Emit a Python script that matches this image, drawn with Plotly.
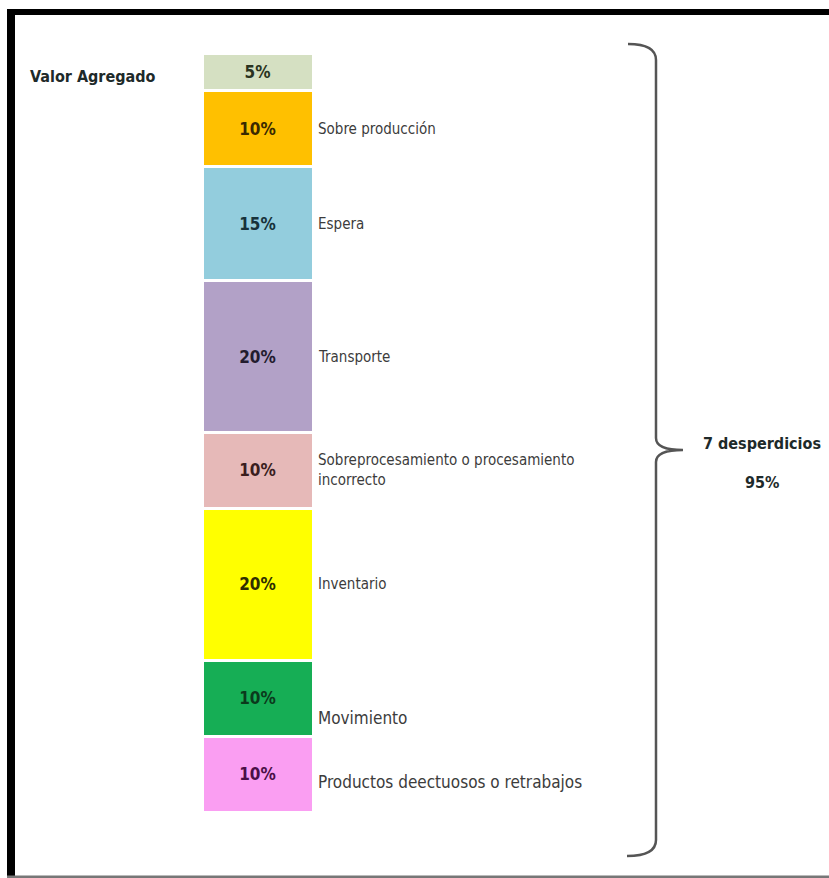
import plotly.graph_objects as go

# ---- data ----
categories = [
    "Valor Agregado",
    "Sobre producción",
    "Espera",
    "Transporte",
    "Sobreprocesamiento o procesamiento<br>incorrecto",
    "Inventario",
    "Movimiento",
    "Productos deectuosos o retrabajos",
]
values = [5, 10, 15, 20, 10, 20, 10, 10]
colors = ["#D5E0C2", "#FFC000", "#93CDDD", "#B2A1C7", "#E6B9B8", "#FFFF00", "#16AE55", "#FA9EF2"]
text_colors = ["#2A3320", "#3A2A00", "#17323A", "#231C2E", "#3A1E1E", "#2E2E00", "#0B3A1C", "#4A1046"]
waste_title = "7 desperdicios"
waste_total = sum(values[1:])

W, H = 829, 878
FONT = "DejaVu Sans Condensed, Liberation Sans Narrow, sans-serif"

# y axis: value 0 at pixel 53, value 100 at pixel 812 (reversed)
top_px, bot_px = 53, 812
total = sum(values)
scale = (bot_px - top_px) / total
y_range = [(H - top_px) / scale, -top_px / scale]

BAR_X = 257.5
BAR_W = 111
label_shift = [-5, 0, 0, 0, 0, 0, -20, -8]


def px(x):
    return x / W


def py(y):
    return 1 - y / H


fig = go.Figure()
for cat, v, c, tc in zip(categories, values, colors, text_colors):
    fig.add_trace(go.Bar(
        x=[BAR_X], y=[v], width=[BAR_W], name=cat,
        marker=dict(color=c, line=dict(color="white", width=3)),
        text=[f"{v}%"], textposition="inside", insidetextanchor="middle",
        textangle=0, constraintext="none",
        textfont=dict(family=FONT, size=17, color=tc, weight="bold"),
        hoverinfo="skip",
    ))

# category labels
cum = 0
for i, (cat, v) in enumerate(zip(categories, values)):
    mid = cum + v / 2
    cum += v
    if i == 0:
        fig.add_annotation(x=28, y=mid, xref="x", yref="y", text=cat, showarrow=False,
                           xanchor="left", yanchor="middle", yshift=label_shift[i],
                           font=dict(family=FONT, size=16, color="#1E2A2A", weight="bold"))
    else:
        size = 17 if i >= 6 else 15
        fig.add_annotation(x=316, y=mid, xref="x", yref="y", text=cat, showarrow=False,
                           xanchor="left", yanchor="middle", align="left", yshift=label_shift[i],
                           font=dict(family=FONT, size=size, color="#3C3C3C"))

# brace
def P(x, y):
    return f"{px(x):.5f},{py(y):.5f}"

brace = (f"M {P(628,44)} Q {P(656,44)} {P(656,60)} L {P(656,438)} "
         f"Q {P(656,450)} {P(683,450)} Q {P(656,450)} {P(656,462)} "
         f"L {P(656,840)} Q {P(656,856)} {P(627,856)}")
fig.add_shape(type="path", path=brace, xref="paper", yref="paper",
              line=dict(color="#555555", width=2.5))

fig.add_annotation(x=px(762), y=py(443), xref="paper", yref="paper", text=waste_title,
                   showarrow=False, xanchor="center", yanchor="middle",
                   font=dict(family=FONT, size=16, color="#1E2A2A", weight="bold"))
fig.add_annotation(x=px(762), y=py(482), xref="paper", yref="paper", text=f"{waste_total}%",
                   showarrow=False, xanchor="center", yanchor="middle",
                   font=dict(family=FONT, size=16, color="#1E2A2A", weight="bold"))

# frame
fig.add_shape(type="rect", x0=px(7), x1=px(829), y0=py(15), y1=py(9), xref="paper", yref="paper",
              fillcolor="black", line=dict(width=0))
fig.add_shape(type="rect", x0=px(7), x1=px(15), y0=py(878), y1=py(9), xref="paper", yref="paper",
              fillcolor="black", line=dict(width=0))
fig.add_shape(type="rect", x0=px(7), x1=px(829), y0=py(878), y1=py(875.5), xref="paper", yref="paper",
              fillcolor="#777777", line=dict(width=0))

fig.update_layout(
    width=W, height=H, autosize=False,
    margin=dict(l=0, r=0, t=0, b=0),
    paper_bgcolor="white", plot_bgcolor="white",
    barmode="stack", showlegend=False,
    xaxis=dict(range=[0, W], visible=False, fixedrange=True),
    yaxis=dict(range=y_range, visible=False, fixedrange=True),
    uniformtext=dict(mode=False),
)

fig.write_html("out.html", config={"displayModeBar": False})
